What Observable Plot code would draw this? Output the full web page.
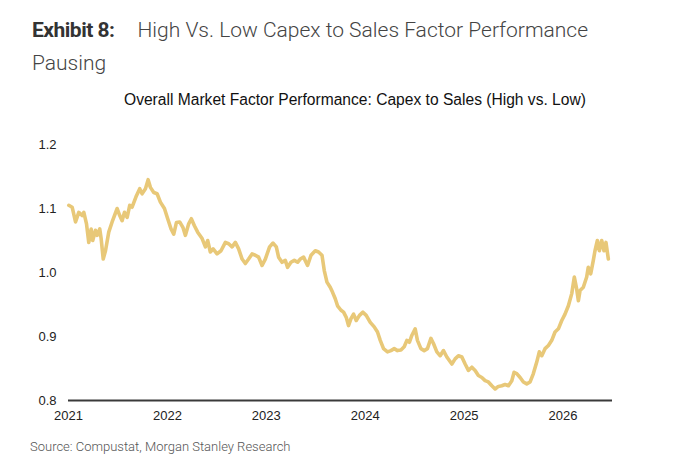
<!DOCTYPE html>
<html>
<head>
<meta charset="utf-8">
<script src="https://cdn.jsdelivr.net/npm/d3@7"></script>
<script src="https://cdn.jsdelivr.net/npm/@observablehq/plot@0.6"></script>
<style>
  html, body { margin: 0; padding: 0; background: #fff; }
  body { width: 674px; height: 460px; position: relative; overflow: hidden; }
  #title { position: absolute; left: 32px; top: 14px; font-family: Roboto, sans-serif; font-size: 21px; line-height: 33px; color: #444; font-weight: 300; white-space: nowrap; }
  #title b { font-weight: 700; color: #333; margin-right: 23px; letter-spacing: -0.5px; }
  #subtitle { position: absolute; left: 124px; top: 91px; font-family: "Liberation Sans", Arial, sans-serif; font-size: 15.6px; color: #111; white-space: nowrap; }
  #chart { position: absolute; left: 0; top: 120px; }
  #source { position: absolute; left: 30px; top: 439px; font-family: Roboto, sans-serif; font-weight: 300; font-size: 13px; color: #555; white-space: nowrap; }
</style>
</head>
<body>
<div id="title"><b>Exhibit 8:</b>High Vs. Low Capex to Sales Factor Performance<br>Pausing</div>
<div id="subtitle">Overall Market Factor Performance: Capex to Sales (High vs. Low)</div>
<div id="chart"></div>
<div id="source">Source: Compustat, Morgan Stanley Research</div>
<script>
// time as fractional years (2021 = start of 2021)
const years = [
  2021.003,2021.037,2021.071,2021.104,2021.138,2021.155,2021.182,2021.205,2021.229,2021.245,
  2021.273,2021.290,2021.316,2021.330,2021.351,2021.374,2021.407,2021.441,2021.492,2021.518,
  2021.542,2021.566,2021.593,2021.619,2021.643,2021.687,2021.720,2021.744,2021.778,2021.805,
  2021.828,2021.862,2021.896,2021.929,2021.970,2022.003,2022.037,2022.064,2022.091,2022.124,
  2022.158,2022.182,2022.215,2022.242,2022.273,2022.306,2022.351,2022.384,2022.407,2022.434,
  2022.462,2022.502,2022.542,2022.586,2022.619,2022.654,2022.687,2022.720,2022.755,2022.788,
  2022.821,2022.856,2022.889,2022.922,2022.957,2022.990,2023.033,2023.068,2023.101,2023.124,
  2023.159,2023.192,2023.215,2023.249,2023.283,2023.316,
  2023.343,2023.377,2023.417,2023.452,2023.495,2023.528,2023.563,2023.586,2023.613,2023.646,
  2023.670,2023.697,2023.720,2023.755,2023.781,2023.808,2023.831,2023.856,2023.882,2023.909,
  2023.942,2023.977,2024.010,2024.051,2024.091,2024.124,2024.152,2024.185,2024.225,2024.260,
  2024.293,2024.326,2024.361,2024.394,2024.421,2024.447,2024.472,2024.505,2024.528,2024.563,
  2024.596,2024.629,2024.664,2024.690,2024.724,
  2024.758,2024.791,2024.825,2024.876,2024.909,2024.942,2024.977,2025.010,2025.043,2025.078,
  2025.111,2025.144,2025.179,2025.212,2025.245,2025.280,2025.313,2025.346,2025.381,2025.414,
  2025.448,2025.482,2025.505,2025.532,2025.566,2025.599,2025.633,2025.667,2025.700,2025.734,
  2025.760,2025.785,2025.818,2025.852,2025.886,2025.919,2025.953,2025.987,2026.020,2026.054,
  2026.088,2026.114,2026.138,2026.155,2026.172,2026.205,2026.239,2026.255,2026.280,2026.306,
  2026.323,2026.347,2026.367,2026.391,2026.414,2026.434,2026.458
];
const factorValues = [
  1.105,1.102,1.079,1.094,1.089,1.094,1.076,1.047,1.068,1.050,
  1.066,1.058,1.068,1.053,1.021,1.034,1.063,1.079,1.100,1.089,
  1.081,1.094,1.086,1.105,1.102,1.120,1.131,1.123,1.131,1.145,
  1.133,1.125,1.123,1.110,1.100,1.084,1.068,1.060,1.078,1.079,
  1.070,1.058,1.076,1.084,1.073,1.063,1.053,1.040,1.050,1.032,
  1.037,1.029,1.034,1.047,1.045,1.040,1.047,1.037,1.021,1.014,
  1.021,1.029,1.027,1.024,1.011,1.021,1.040,1.046,1.040,1.024,
  1.016,1.019,1.008,1.016,1.019,1.016,
  1.021,1.024,1.011,1.027,1.034,1.032,1.027,1.003,0.985,0.977,
  0.969,0.959,0.948,0.941,0.938,0.930,0.917,0.928,0.935,0.925,
  0.933,0.938,0.933,0.922,0.915,0.907,0.894,0.881,0.876,0.878,
  0.881,0.878,0.879,0.884,0.894,0.891,0.902,0.912,0.894,0.881,
  0.878,0.881,0.897,0.889,0.876,
  0.870,0.878,0.868,0.857,0.865,0.870,0.868,0.857,0.847,0.852,
  0.847,0.839,0.836,0.831,0.829,0.823,0.818,0.822,0.823,0.825,
  0.823,0.831,0.844,0.842,0.836,0.829,0.826,0.829,0.842,0.860,
  0.876,0.870,0.881,0.886,0.894,0.907,0.912,0.925,0.935,0.948,
  0.967,0.993,0.974,0.956,0.972,0.977,0.993,1.008,0.998,1.019,
  1.034,1.050,1.034,1.050,1.034,1.047,1.021
];
const yTicks = [0.8, 0.9, 1.0, 1.1, 1.2];
const xTicks = [2021, 2022, 2023, 2024, 2025, 2026];

const data = years.map((t, i) => ({t, v: factorValues[i]}));

const chart = Plot.plot({
  width: 674,
  height: 310,
  marginLeft: 68,
  marginRight: 62,
  marginTop: 24,
  marginBottom: 30,
  style: {fontFamily: "'Liberation Sans', Arial, sans-serif", fontSize: "13px", color: "#222", background: "#fff"},
  x: {domain: [2021, 2026.5], ticks: xTicks, tickFormat: d => String(d), tickSize: 0, tickPadding: 10, label: null},
  y: {domain: [0.8, 1.2], ticks: yTicks, tickFormat: d => d.toFixed(1), tickSize: 0, tickPadding: 12, label: null},
  marks: [
    Plot.line(data, {x: "t", y: "v", stroke: "#e8c878", strokeWidth: 3.6, strokeLinejoin: "round", strokeLinecap: "round"}),
    Plot.ruleY([0.8], {stroke: "#3a3a3a", strokeWidth: 2})
  ]
});
document.getElementById("chart").appendChild(chart);
</script>
</body>
</html>
